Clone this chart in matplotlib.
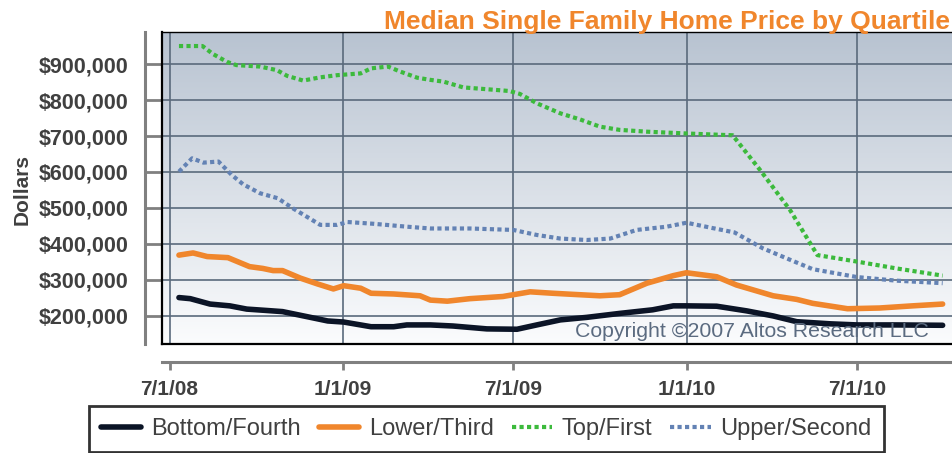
import matplotlib
matplotlib.use("Agg")
import matplotlib.pyplot as plt
import numpy as np
import pandas as pd

plt.rcParams["font.family"] = ["Liberation Sans", "DejaVu Sans"]

# values in thousands of dollars
top_dates = ["2008-07-11", "2008-08-05", "2008-08-16", "2008-08-31", "2008-09-10", "2008-10-05",
             "2008-10-23", "2008-11-03", "2008-11-20", "2008-12-08", "2008-12-26", "2009-01-20",
             "2009-01-31", "2009-02-18", "2009-03-03", "2009-03-21", "2009-04-04", "2009-04-18",
             "2009-05-09", "2009-06-03", "2009-06-27", "2009-07-08", "2009-07-26", "2009-08-20",
             "2009-09-10", "2009-10-01", "2009-10-22", "2009-11-20", "2010-01-01", "2010-02-19",
             "2010-03-20", "2010-04-21", "2010-05-20", "2010-07-01", "2010-08-12", "2010-09-30"]
top_vals = [950, 950, 928, 906, 897, 893, 883, 867, 854, 863, 869, 874, 888, 893, 879, 862, 856, 851,
            835, 830, 825, 817, 791, 763, 746, 726, 717, 712, 707, 702, 606, 494, 369, 351, 332, 312]

upper_dates = ["2008-07-11", "2008-07-25", "2008-08-06", "2008-08-22", "2008-09-05", "2008-09-17",
               "2008-10-05", "2008-10-24", "2008-11-09", "2008-11-28", "2008-12-08", "2008-12-26",
               "2009-01-06", "2009-02-03", "2009-03-10", "2009-04-04", "2009-05-16", "2009-07-01",
               "2009-07-26", "2009-08-20", "2009-09-17", "2009-10-12", "2009-11-09", "2009-12-11",
               "2010-01-01", "2010-01-29", "2010-02-21", "2010-03-23", "2010-04-21", "2010-05-15",
               "2010-07-01", "2010-08-12", "2010-09-30"]
upper_vals = [601, 638, 626, 629, 592, 566, 541, 527, 499, 469, 453, 453, 461, 456, 448, 443, 443,
              439, 425, 415, 411, 415, 439, 448, 459, 444, 432, 388, 356, 330, 308, 298, 291]

lower_dates = ["2008-07-11", "2008-07-26", "2008-08-10", "2008-09-01", "2008-09-24", "2008-10-08",
               "2008-10-19", "2008-10-29", "2008-11-17", "2008-12-05", "2008-12-22", "2009-01-02",
               "2009-01-20", "2009-01-31", "2009-02-24", "2009-03-24", "2009-04-04", "2009-04-22",
               "2009-05-16", "2009-06-20", "2009-07-19", "2009-08-12", "2009-09-02", "2009-10-01",
               "2009-10-22", "2009-11-20", "2009-12-18", "2010-01-01", "2010-02-02", "2010-02-23",
               "2010-04-03", "2010-04-28", "2010-05-15", "2010-06-21", "2010-07-25", "2010-08-29",
               "2010-09-30"]
lower_vals = [369, 375, 365, 362, 337, 332, 326, 326, 305, 289, 275, 284, 277, 263, 261, 256, 244,
              241, 248, 254, 267, 263, 260, 256, 259, 291, 312, 320, 309, 286, 256, 246, 235, 220,
              222, 228, 233]

bottom_dates = ["2008-07-11", "2008-07-23", "2008-08-13", "2008-09-03", "2008-09-21", "2008-10-13",
                "2008-10-29", "2008-11-24", "2008-12-16", "2009-01-02", "2009-01-31", "2009-02-24",
                "2009-03-10", "2009-04-04", "2009-04-28", "2009-06-03", "2009-07-05", "2009-07-26",
                "2009-08-20", "2009-09-17", "2009-10-22", "2009-11-26", "2009-12-18", "2010-01-01",
                "2010-02-02", "2010-03-06", "2010-04-03", "2010-04-28", "2010-06-03", "2010-07-01",
                "2010-08-12", "2010-09-30"]
bottom_vals = [251, 248, 233, 228, 219, 215, 212, 198, 186, 183, 170, 170, 175, 175, 172, 164, 163,
               175, 189, 196, 207, 217, 228, 228, 227, 214, 200, 184, 178, 175, 175, 174]

tick_dates = ["2008-07-01", "2009-01-01", "2009-07-01", "2010-01-01", "2010-07-01"]
tick_labels = ["7/1/08", "1/1/09", "7/1/09", "1/1/10", "7/1/10"]
y_ticks = [200000, 300000, 400000, 500000, 600000, 700000, 800000, 900000]

fig = plt.figure(figsize=(9.53, 4.53), dpi=100)
ax = fig.add_axes([162 / 953, 1 - 344 / 453, 1 - 162 / 953, 312 / 453])

# gradient background
grad = np.linspace(0, 1, 256).reshape(-1, 1)
top_c = np.array([184, 195, 209]) / 255
bot_c = np.array([251, 252, 253]) / 255
img = top_c * (1 - grad[..., None]) + bot_c * grad[..., None]
img = img.reshape(256, 1, 3)
ax.imshow(img, extent=(0, 1, 0, 1), transform=ax.transAxes, aspect="auto", zorder=-1)

def d(lst):
    return pd.to_datetime(lst)

ax.plot(d(bottom_dates), np.array(bottom_vals) * 1000, color="#0b1426", lw=4,
        solid_capstyle="round", solid_joinstyle="round", label="Bottom/Fourth", zorder=4)
ax.plot(d(lower_dates), np.array(lower_vals) * 1000, color="#f0862c", lw=4,
        solid_capstyle="round", solid_joinstyle="round", label="Lower/Third", zorder=4)
ax.plot(d(top_dates), np.array(top_vals) * 1000, color="#3cba3c", lw=3,
        linestyle=(0, (1, 0.8)), label="Top/First", zorder=4)
ax.plot(d(upper_dates), np.array(upper_vals) * 1000, color="#6382b4", lw=3,
        linestyle=(0, (1, 0.8)), label="Upper/Second", zorder=4)

ax.set_xlim(pd.Timestamp("2008-06-23"), pd.Timestamp("2010-10-11"))
ax.set_ylim(122000, 989000)

ax.set_xticks(d(tick_dates))
ax.set_xticklabels(tick_labels)
ax.set_yticks(y_ticks)
ax.set_yticklabels(["${:,}".format(v) for v in y_ticks])

ax.grid(True, color="#5a6a7c", lw=1.2)
ax.set_axisbelow(True)

ax.spines["right"].set_visible(False)
ax.spines["top"].set_color("black")
ax.spines["top"].set_linewidth(1)
ax.spines["left"].set_position(("outward", 12))
ax.spines["bottom"].set_position(("outward", 13))
for s in ["left", "bottom"]:
    ax.spines[s].set_color("#808080")
    ax.spines[s].set_linewidth(2.2)

ax.tick_params(axis="y", direction="in", length=12, width=2, color="#808080", pad=12,
               labelsize=15.5, labelcolor="#404040")
ax.tick_params(axis="x", direction="out", length=6, width=2, color="#808080", pad=7,
               labelsize=15, labelcolor="#404040")
for lab in ax.get_xticklabels() + ax.get_yticklabels():
    lab.set_fontweight("bold")

# black frame on left and bottom of plot area
ax.plot([0, 0], [0, 1], transform=ax.transAxes, color="black", lw=1.6, clip_on=False, zorder=5)
ax.plot([0, 1], [0, 0], transform=ax.transAxes, color="black", lw=1.6, clip_on=False, zorder=5)

ax.text(0.970, 0.022, "Copyright \u00a92007 Altos Research LLC", transform=ax.transAxes,
        ha="right", va="baseline", fontsize=15.3, color="#5b6b80", zorder=6)

fig.text(950 / 953, 1 - 29 / 453, "Median Single Family Home Price by Quartile", ha="right",
         va="baseline", fontsize=19, fontweight="bold", color="#f0862c")
fig.text(22 / 953, 1 - 190 / 453, "Dollars", rotation=90, ha="center", va="center",
         fontsize=15, fontweight="bold", color="#404040")

leg = fig.legend(loc="center", bbox_to_anchor=(486.5 / 953, 1 - 429 / 453), ncol=4,
                 fontsize=17, frameon=True, fancybox=False, handlelength=1.7,
                 handletextpad=0.42, columnspacing=0.76, borderpad=0.5)
leg.get_frame().set_edgecolor("black")
leg.get_frame().set_linewidth(2)
for t in leg.get_texts():
    t.set_color("#404040")

fig.savefig("out.png", dpi=100)
